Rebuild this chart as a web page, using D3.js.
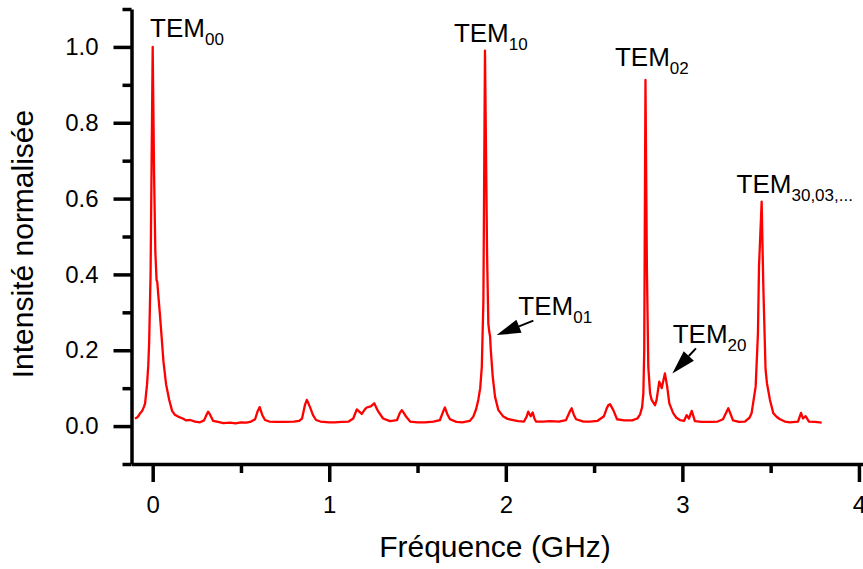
<!DOCTYPE html>
<html>
<head>
<meta charset="utf-8">
<script src="https://cdn.jsdelivr.net/npm/d3@7"></script>
<style>
  html, body { margin: 0; padding: 0; background: #fff; }
  svg { display: block; font-family: "Liberation Sans", Arial, sans-serif; }
</style>
</head>
<body>
<svg id="chart" width="863" height="569"></svg>
<script>
// ---- Data ----
const freqGHz = [
  -0.101,-0.09,-0.08,-0.071,-0.06,-0.05,-0.043,-0.032,-0.025,-0.02,-0.012,-0.006,0.0,0.008,0.015,0.022,0.026,0.031,0.04,0.049,
  0.061,0.076,0.093,0.11,0.125,0.144,0.17,0.19,0.212,0.24,0.268,0.291,0.305,0.314,0.325,0.342,0.37,0.40,0.438,0.47,
  0.50,0.53,0.552,0.58,0.595,0.606,0.62,0.636,0.66,0.70,0.75,0.80,0.83,0.846,0.862,0.873,0.882,0.891,0.908,0.925,
  0.95,1.0,1.033,1.07,1.11,1.136,1.156,1.17,1.184,1.2,1.212,1.235,1.255,1.265,1.278,1.305,1.344,1.384,1.40,1.411,
  1.422,1.435,1.458,1.50,1.542,1.59,1.627,1.645,1.655,1.668,1.684,1.72,1.752,1.797,1.816,1.832,1.844,1.855,1.864,1.873,
  1.882,1.894,1.901,1.906,1.911,1.915,1.926,1.939,1.958,1.986,2.01,2.042,2.07,2.103,2.118,2.127,2.141,2.152,2.162,2.171,
  2.21,2.25,2.30,2.341,2.362,2.373,2.385,2.398,2.44,2.477,2.52,2.556,2.57,2.58,2.59,2.609,2.63,2.67,2.715,2.745,
  2.76,2.772,2.779,2.784,2.791,2.799,2.807,2.817,2.826,2.845,2.854,2.869,2.876,2.883,2.901,2.914,2.926,2.948,2.966,2.986,
  3.01,3.024,3.037,3.053,3.071,3.11,3.156,3.20,3.23,3.26,3.287,3.32,3.354,3.38,3.392,3.415,3.428,3.434,3.449,3.458,
  3.471,3.479,3.496,3.515,3.535,3.553,3.58,3.609,3.655,3.672,3.683,3.698,3.717,3.751,3.789
];
const intensity = [
  0.020,0.022,0.027,0.034,0.040,0.050,0.060,0.110,0.160,0.220,0.400,0.700,1.000,0.660,0.460,0.385,0.380,0.350,0.300,0.245,
  0.170,0.110,0.070,0.040,0.030,0.025,0.020,0.015,0.016,0.012,0.010,0.015,0.030,0.038,0.030,0.014,0.011,0.008,0.009,0.007,
  0.010,0.009,0.011,0.018,0.040,0.050,0.030,0.016,0.012,0.011,0.011,0.012,0.014,0.020,0.055,0.069,0.060,0.050,0.029,0.016,
  0.012,0.010,0.010,0.011,0.012,0.020,0.044,0.038,0.032,0.043,0.049,0.052,0.060,0.050,0.038,0.020,0.013,0.016,0.035,0.042,
  0.035,0.025,0.012,0.010,0.010,0.012,0.016,0.038,0.049,0.032,0.018,0.011,0.010,0.014,0.025,0.045,0.069,0.100,0.156,0.330,
  0.990,0.450,0.270,0.250,0.236,0.200,0.130,0.077,0.042,0.025,0.019,0.016,0.013,0.012,0.025,0.038,0.026,0.036,0.020,0.012,
  0.012,0.013,0.012,0.016,0.038,0.047,0.030,0.018,0.012,0.012,0.014,0.026,0.045,0.055,0.058,0.042,0.018,0.015,0.015,0.020,
  0.030,0.050,0.086,0.200,0.913,0.420,0.156,0.087,0.069,0.055,0.069,0.117,0.110,0.100,0.139,0.104,0.060,0.034,0.022,0.016,
  0.014,0.029,0.020,0.040,0.013,0.011,0.011,0.012,0.018,0.047,0.015,0.011,0.012,0.022,0.034,0.104,0.245,0.420,0.592,0.377,
  0.150,0.113,0.069,0.034,0.024,0.018,0.012,0.010,0.012,0.035,0.020,0.026,0.012,0.011,0.009
];
const xMajorTicks = [0, 1, 2, 3, 4];
const xMinorTicks = [0.5, 1.5, 2.5, 3.5];
const yMajorTicks = [0.0, 0.2, 0.4, 0.6, 0.8, 1.0];
const yMinorTicks = [-0.1, 0.1, 0.3, 0.5, 0.7, 0.9, 1.1];
const xTitle = "Fréquence (GHz)";
const yTitle = "Intensité normalisée";
// mode labels: main text, subscript, anchor (GHz, intensity)
const modeLabels = [
  { main: "TEM", sub: "00", fx: -0.015, fy: 1.026 },
  { main: "TEM", sub: "10", fx: 1.706, fy: 1.013 },
  { main: "TEM", sub: "02", fx: 2.618, fy: 0.950 },
  { main: "TEM", sub: "30,03,...", fx: 3.307, fy: 0.614 },
  { main: "TEM", sub: "01", fx: 2.071, fy: 0.293 },
  { main: "TEM", sub: "20", fx: 2.945, fy: 0.220 }
];
// arrows: tail -> tip (GHz, intensity)
const arrows = [
  { x1: 2.156, y1: 0.278, x2: 1.948, y2: 0.240 },
  { x1: 3.077, y1: 0.205, x2: 2.943, y2: 0.139 }
];

// ---- Chart ----
const svg = d3.select("#chart");
const x = d3.scaleLinear().domain([-0.12, 4.023]).range([131.5, 863]);
const y = d3.scaleLinear().domain([-0.1, 1.1]).range([464, 9]);
const axisColor = "#000";
const axisW = 3.5;

// spectrum line
const pts = freqGHz.map((f, i) => [f, intensity[i]]);
svg.append("path")
  .datum(pts)
  .attr("fill", "none")
  .attr("stroke", "#ff0000")
  .attr("stroke-width", 2.3)
  .attr("stroke-linejoin", "round")
  .attr("d", d3.line().x(d => x(d[0])).y(d => y(d[1])));

// Y axis
const yAxisG = svg.append("g").attr("transform", `translate(${x(-0.12)},0)`);
yAxisG.call(d3.axisLeft(y).tickValues(yMajorTicks).tickSize(18).tickSizeOuter(0)
  .tickPadding(15).tickFormat(d3.format(".1f")));
const yMinorG = svg.append("g").attr("transform", `translate(${x(-0.12)},0)`);
yMinorG.call(d3.axisLeft(y).tickValues(yMinorTicks).tickSize(9).tickSizeOuter(0).tickFormat(""));
yMinorG.select(".domain").remove();

// X axis
const xAxisG = svg.append("g").attr("transform", `translate(0,${y(-0.1)})`);
xAxisG.call(d3.axisBottom(x).tickValues(xMajorTicks).tickSize(18).tickSizeOuter(0)
  .tickPadding(14).tickFormat(d3.format("d")));
const xMinorG = svg.append("g").attr("transform", `translate(0,${y(-0.1)})`);
xMinorG.call(d3.axisBottom(x).tickValues(xMinorTicks).tickSize(9).tickSizeOuter(0).tickFormat(""));
xMinorG.select(".domain").remove();

[yAxisG, yMinorG, xAxisG, xMinorG].forEach(g => {
  g.selectAll(".domain").attr("stroke", axisColor).attr("stroke-width", axisW);
  g.selectAll(".tick line").attr("stroke", axisColor).attr("stroke-width", axisW);
  g.selectAll(".tick text").attr("fill", "#000").style("font-size", "24px")
    .style("font-family", '"Liberation Sans", Arial, sans-serif');
});

// axis titles
svg.append("text")
  .attr("x", 495).attr("y", 557)
  .attr("text-anchor", "middle")
  .style("font-size", "30px")
  .text(xTitle);
svg.append("text")
  .attr("transform", `translate(33,244) rotate(-90)`)
  .attr("text-anchor", "middle")
  .style("font-size", "30px")
  .text(yTitle);

// mode labels
modeLabels.forEach(l => {
  const t = svg.append("text")
    .attr("x", x(l.fx)).attr("y", y(l.fy))
    .style("font-size", "26px").attr("fill", "#000");
  t.append("tspan").text(l.main);
  t.append("tspan").attr("dy", 8).style("font-size", "17px").text(l.sub);
});

// arrows
arrows.forEach(a => {
  const X1 = x(a.x1), Y1 = y(a.y1), X2 = x(a.x2), Y2 = y(a.y2);
  const dx = X2 - X1, dy = Y2 - Y1, len = Math.hypot(dx, dy);
  const ux = dx / len, uy = dy / len;
  const hl = 24, hw = 7;
  const bx = X2 - ux * hl, by = Y2 - uy * hl;
  svg.append("line")
    .attr("x1", X1).attr("y1", Y1).attr("x2", bx).attr("y2", by)
    .attr("stroke", "#000").attr("stroke-width", 2);
  svg.append("path")
    .attr("d", `M${X2},${Y2}L${bx - uy * hw},${by + ux * hw}L${bx + uy * hw},${by - ux * hw}Z`)
    .attr("fill", "#000");
});
</script>
</body>
</html>
